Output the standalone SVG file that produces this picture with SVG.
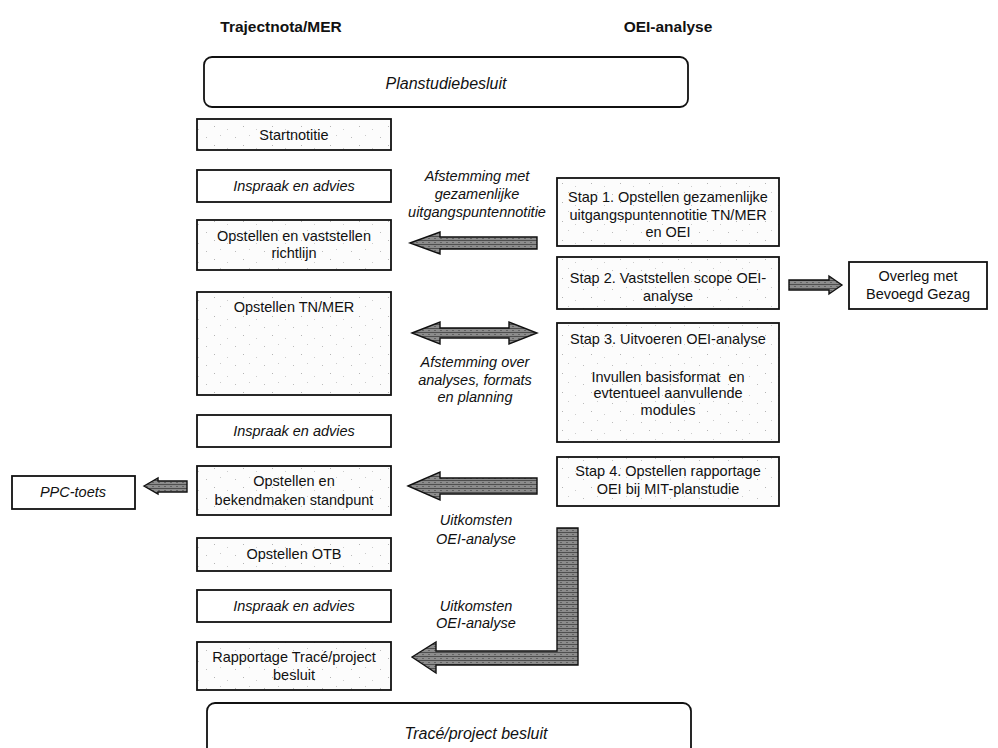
<svg xmlns="http://www.w3.org/2000/svg" width="998" height="748" viewBox="0 0 998 748">
<defs>
<pattern id="speck" width="29" height="19" patternUnits="userSpaceOnUse">
<rect width="29" height="19" fill="#fcfcfc"/>
<rect x="3" y="4" width="1" height="1" fill="#bcbcbc"/>
<rect x="17" y="2" width="1" height="1" fill="#cacaca"/>
<rect x="11" y="12" width="1" height="1" fill="#b4b4b4"/>
<rect x="24" y="15" width="1" height="1" fill="#cccccc"/>
</pattern>
<pattern id="hatch" width="6" height="4" patternUnits="userSpaceOnUse">
<rect width="6" height="4" fill="#8c8c8c"/>
<rect y="0" width="6" height="1" fill="#4e4e4e"/>
<rect x="2" y="2" width="2" height="1" fill="#626262"/>
</pattern>
</defs>
<style>
text{font-family:"Liberation Sans",Arial,sans-serif;font-size:14.5px;fill:#111;text-anchor:middle}
.it{font-style:italic}
.hd{font-weight:bold;font-size:15.5px}
.big{font-size:16px;font-style:italic}
.box{fill:url(#speck);stroke:#111;stroke-width:1.8}
.plain{fill:#fff;stroke:#111;stroke-width:1.8}
.arr{fill:url(#hatch);stroke:#111;stroke-width:1.4;stroke-linejoin:miter}
</style>
<rect width="998" height="748" fill="#fff"/>

<g id="headers">
<text class="hd" x="281" y="32">Trajectnota/MER</text>
<text class="hd" x="668" y="32">OEI-analyse</text>
</g>

<g id="planstudiebesluit">
<rect class="plain" x="204" y="57" width="484" height="50" rx="8"/>
<text class="big" x="446" y="89">Planstudiebesluit</text>
</g>

<g id="startnotitie">
<rect class="box" x="197" y="119" width="194" height="31"/>
<text x="294" y="140">Startnotitie</text>
</g>
<g id="inspraak1">
<rect class="plain" x="197" y="170" width="194" height="32"/>
<text class="it" x="294" y="191">Inspraak en advies</text>
</g>
<g id="richtlijn">
<rect class="box" x="197" y="220" width="194" height="50"/>
<text x="294" y="241">Opstellen en vaststellen</text>
<text x="294" y="258">richtlijn</text>
</g>
<g id="tnmer">
<rect class="box" x="197" y="292" width="194" height="103"/>
<text x="294" y="312">Opstellen TN/MER</text>
</g>
<g id="inspraak2">
<rect class="plain" x="197" y="415" width="194" height="32"/>
<text class="it" x="294" y="436">Inspraak en advies</text>
</g>
<g id="standpunt">
<rect class="box" x="197" y="466" width="194" height="49"/>
<text x="294" y="486">Opstellen en</text>
<text x="294" y="505">bekendmaken standpunt</text>
</g>
<g id="otb">
<rect class="box" x="197" y="538" width="194" height="33"/>
<text x="294" y="559">Opstellen OTB</text>
</g>
<g id="inspraak3">
<rect class="plain" x="197" y="590" width="194" height="32"/>
<text class="it" x="294" y="611">Inspraak en advies</text>
</g>
<g id="rapportage">
<rect class="box" x="197" y="642" width="194" height="48"/>
<text x="294" y="662">Rapportage Tracé/project</text>
<text x="294" y="680">besluit</text>
</g>
<g id="traceproject">
<rect class="plain" x="207" y="703" width="484" height="60" rx="8"/>
<text class="big" x="476" y="739">Tracé/project besluit</text>
</g>

<g id="ppc">
<rect class="plain" x="12" y="476" width="123" height="33"/>
<text class="it" x="73" y="497">PPC-toets</text>
</g>

<g id="stap1">
<rect class="box" x="557" y="178" width="222" height="68"/>
<text x="668" y="202">Stap 1. Opstellen gezamenlijke</text>
<text x="668" y="220">uitgangspuntennotitie TN/MER</text>
<text x="668" y="237">en OEI</text>
</g>
<g id="stap2">
<rect class="box" x="557" y="257" width="222" height="52"/>
<text x="668" y="283">Stap 2. Vaststellen scope OEI-</text>
<text x="668" y="301">analyse</text>
</g>
<g id="stap3">
<rect class="box" x="557" y="323" width="222" height="119"/>
<text x="668" y="344">Stap 3. Uitvoeren OEI-analyse</text>
<text x="668" y="382" xml:space="preserve">Invullen basisformat  en</text>
<text x="668" y="398">evtentueel aanvullende</text>
<text x="668" y="415">modules</text>
</g>
<g id="stap4">
<rect class="box" x="557" y="457" width="222" height="49"/>
<text x="668" y="476">Stap 4. Opstellen rapportage</text>
<text x="668" y="494">OEI bij MIT-planstudie</text>
</g>
<g id="overleg">
<rect class="plain" x="849" y="262" width="138" height="47"/>
<text x="918" y="281">Overleg met</text>
<text x="918" y="299">Bevoegd Gezag</text>
</g>

<g id="connectors">
<polygon class="arr" points="410,243 440,232 440,237 537,237 537,249 440,249 440,254"/>
<polygon class="arr" points="412,333 440,322 440,328 509,328 509,322 537,333 509,344 509,338 440,338 440,344"/>
<polygon class="arr" points="408,486 440,472 440,478 537,478 537,494 440,494 440,500"/>
<polygon class="arr" points="144,486 158,478 158,481 187,481 187,492 158,492 158,494"/>
<polygon class="arr" points="842,285 829,276 829,280 789,280 789,290 829,290 829,294"/>
<polygon class="arr" points="412,657 436,642 436,651 557,651 557,528 578,528 578,665 436,665 436,673"/>
<text class="it" x="477" y="181">Afstemming met</text>
<text class="it" x="477" y="199">gezamenlijke</text>
<text class="it" x="477" y="217">uitgangspuntennotitie</text>
<text class="it" x="475" y="367">Afstemming over</text>
<text class="it" x="475" y="385">analyses, formats</text>
<text class="it" x="475" y="402">en planning</text>
<text class="it" x="476" y="525">Uitkomsten</text>
<text class="it" x="476" y="544">OEI-analyse</text>
<text class="it" x="476" y="611">Uitkomsten</text>
<text class="it" x="476" y="628">OEI-analyse</text>
</g>
</svg>
